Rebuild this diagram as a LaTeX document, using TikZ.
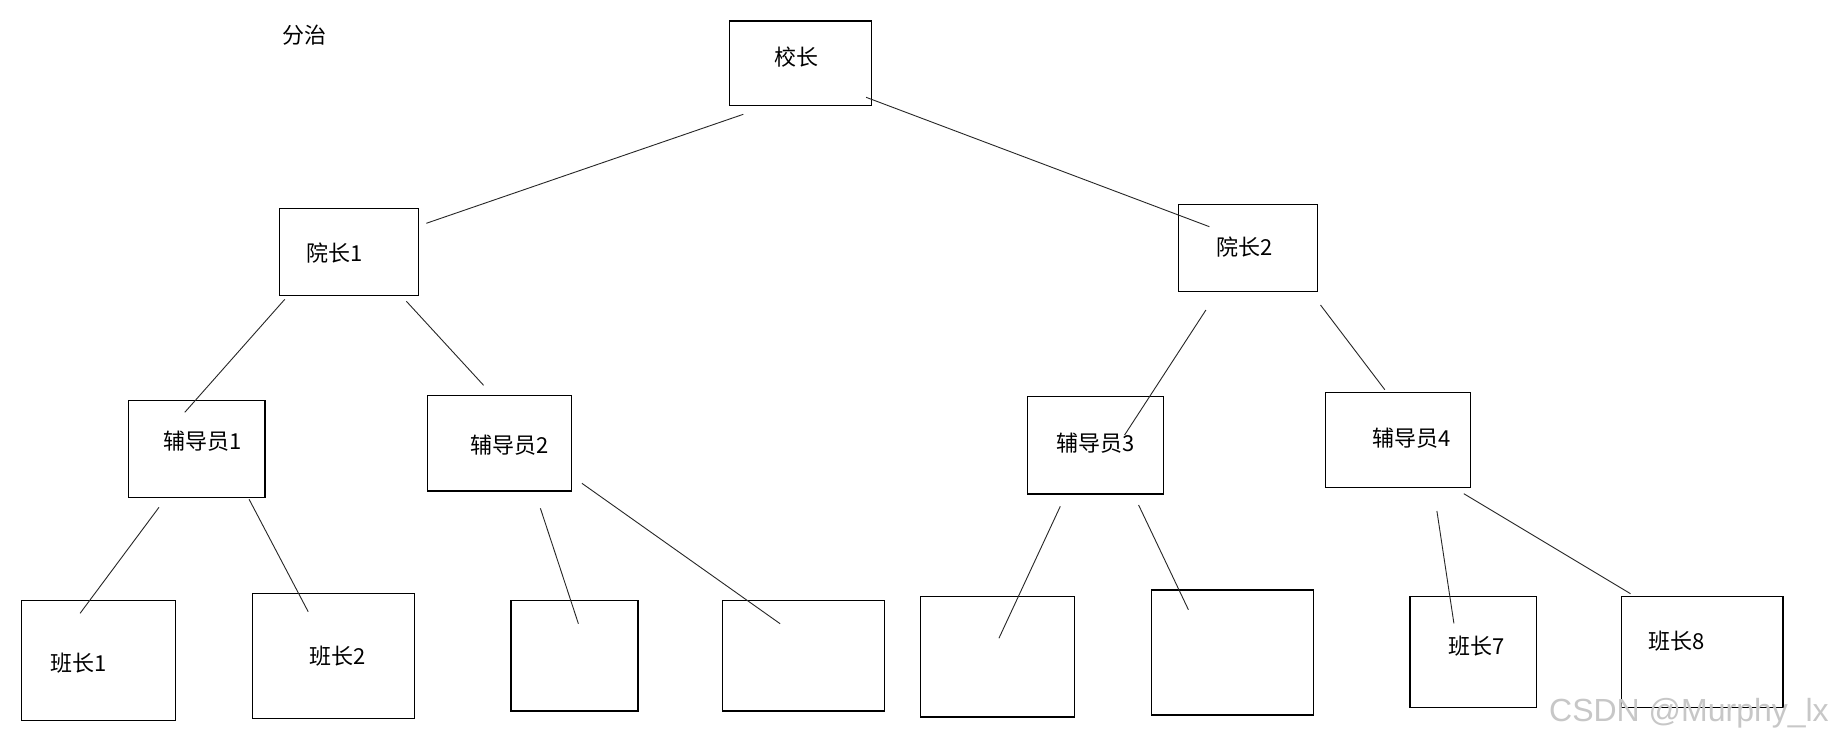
\documentclass[tikz,border=0pt]{standalone}
\usepackage{fontspec}
\setmainfont{Noto Sans CJK SC}
\newfontfamily\wmfont{Liberation Sans}
\usetikzlibrary{fit}
\begin{document}
\begin{tikzpicture}[x=1pt,y=-1pt,
  box/.style={draw=black, line width=1.1pt, inner sep=0pt},
  txt/.style={font=\fontsize{22}{24}\selectfont, inner sep=0pt},
  link/.style={draw=black!85, line width=0.9pt}]
\useasboundingbox (0,0) rectangle (1834,742);
\fill[white] (0,0) rectangle (1834,742);

\node[txt] (title) at (304.5,34.7) {分治};

% boxes
\node[box, fit={(729.2,21) (871.3,105.3)}] (xz) {};
\node[box, fit={(279.5,208.3) (418.7,295.3)}] (yz1) {};
\node[box, fit={(1178.4,204.3) (1317.6,291.3)}] (yz2) {};
\node[box, fit={(128.7,400.3) (265,497.7)}] (fd1) {};
\node[box, fit={(427.5,395.7) (571.3,491)}] (fd2) {};
\node[box, fit={(1027.5,396.7) (1163.8,494)}] (fd3) {};
\node[box, fit={(1325.8,392.3) (1470.8,487.3)}] (fd4) {};
\node[box, fit={(21.6,600.3) (175.4,720.3)}] (bz1) {};
\node[box, fit={(252.6,593.3) (414.6,718.3)}] (bz2) {};
\node[box, fit={(511,600.3) (638,711)}] (bz3) {};
\node[box, fit={(722.8,600.3) (884.2,711)}] (bz4) {};
\node[box, fit={(920.5,596.3) (1074.3,717)}] (bz5) {};
\node[box, fit={(1151.5,590) (1313.5,715)}] (bz6) {};
\node[box, fit={(1410,596.3) (1536.9,707.3)}] (bz7) {};
\node[box, fit={(1621.7,596.3) (1783,707.3)}] (bz8) {};

% texts
\node[txt] (xzt) at (796,57.5) {校长};
\node[txt] (yz1t) at (334.5,253.3) {院长1};
\node[txt] (yz2t) at (1245,247.3) {院长2};
\node[txt] (fd1t) at (203,441) {辅导员1};
\node[txt] (fd2t) at (510,445) {辅导员2};
\node[txt] (fd3t) at (1096,443.3) {辅导员3};
\node[txt] (fd4t) at (1411.4,438.3) {辅导员4};
\node[txt] (bz1t) at (79,663) {班长1};
\node[txt] (bz2t) at (338,656) {班长2};
\node[txt] (bz7t) at (1476.4,646.3) {班长7};
\node[txt] (bz8t) at (1676.7,640.8) {班长8};

% connector end points
\coordinate (a1) at (743.3,114.3);  \coordinate (b1) at (426.3,223.3);
\coordinate (a2) at (866.1,97.3);   \coordinate (b2) at (1209.4,226.7);
\coordinate (a3) at (284.8,299.3);  \coordinate (b3) at (184.8,412.3);
\coordinate (a4) at (406.4,301.3);  \coordinate (b4) at (483.6,385.3);
\coordinate (a5) at (1205.9,310);   \coordinate (b5) at (1124.6,435);
\coordinate (a6) at (1320.5,305);   \coordinate (b6) at (1384.8,389.7);
\coordinate (a7) at (159,507.3);    \coordinate (b7) at (80.1,613.3);
\coordinate (a8) at (249.1,499.3);  \coordinate (b8) at (308.2,611.7);
\coordinate (a9) at (540.4,508.3);  \coordinate (b9) at (578.4,623.7);
\coordinate (a10) at (581.9,483.3); \coordinate (b10) at (780.1,623.7);
\coordinate (a11) at (1060.3,506.3);\coordinate (b11) at (998.9,638.3);
\coordinate (a12) at (1138.6,505);  \coordinate (b12) at (1188.4,609.7);
\coordinate (a13) at (1436.9,511);  \coordinate (b13) at (1453.9,623.3);
\coordinate (a14) at (1463.8,493.7);\coordinate (b14) at (1630.5,593.7);

\foreach \i in {1,...,14} { \draw[link] (a\i) -- (b\i); }

\node[font=\wmfont\fontsize{32}{34}\selectfont, text=black!22, inner sep=0pt, anchor=base east] (wm) at (1829,721) {CSDN @Murphy\_lx};
\end{tikzpicture}
\end{document}
